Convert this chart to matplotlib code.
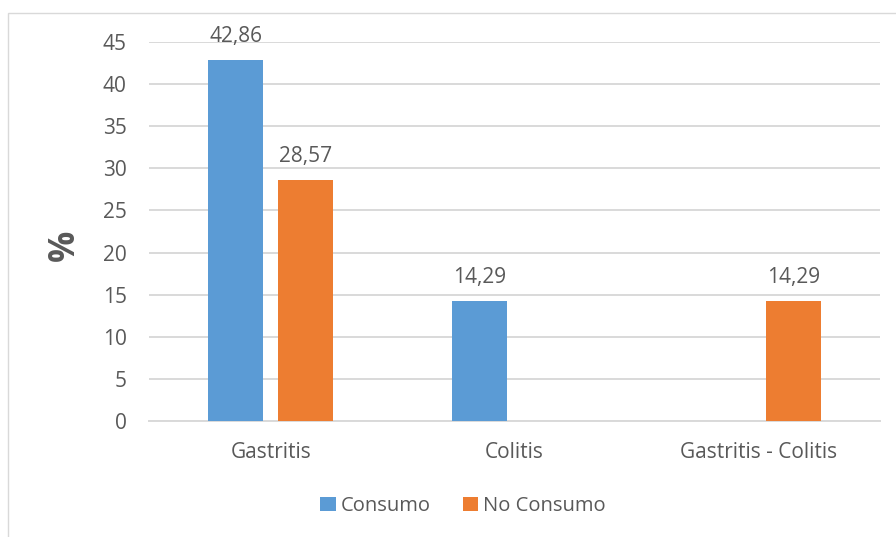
import numpy as np
import matplotlib.pyplot as plt
import matplotlib as mpl
from matplotlib.patches import Rectangle

categories = ['Gastritis', 'Colitis', 'Gastritis - Colitis']
consumo = [42.86, 14.29, 0]
no_consumo = [28.57, 0, 14.29]
yticks = [0, 5, 10, 15, 20, 25, 30, 35, 40, 45]

blue = '#5B9BD5'
orange = '#ED7D31'
txt = '#595959'
grid = '#D9D9D9'

mpl.rcParams['font.family'] = ['Open Sans', 'DejaVu Sans']
fs = 15

fig = plt.figure(figsize=(8.96, 5.37), dpi=100)
ax = fig.add_axes([149/896, 1-421/537, (880-149)/896, (421-42)/537])

# chart border (left and top visible)
fig.patches.append(Rectangle((8/896, -0.1), 1.2, 1-13/537+0.1, transform=fig.transFigure,
                             fill=False, edgecolor=grid, linewidth=1.0))

x = np.arange(len(categories))
w = 0.226
off = 0.144
b1 = ax.bar(x - off, consumo, w, color=blue, label='Consumo', zorder=3)
b2 = ax.bar(x + off, no_consumo, w, color=orange, label='No Consumo', zorder=3)

for bars, vals in ((b1, consumo), (b2, no_consumo)):
    for rect, v in zip(bars, vals):
        if v == 0:
            continue
        ax.annotate(('%.2f' % v).replace('.', ','),
                    (rect.get_x() + rect.get_width()/2, v),
                    xytext=(0, 13), textcoords='offset points',
                    ha='center', va='baseline', fontsize=fs, color=txt)

ax.set_xlim(-0.5, len(categories) - 0.5)
ax.set_ylim(0, 45)
ax.set_yticks(yticks)
ax.set_xticks(x)
ax.set_xticklabels(categories)
ax.yaxis.grid(True, color=grid, linewidth=1.4, zorder=0)
ax.set_axisbelow(True)
for s in ['top', 'right', 'left']:
    ax.spines[s].set_visible(False)
ax.spines['bottom'].set_color(grid)
ax.spines['bottom'].set_linewidth(1.4)
ax.tick_params(axis='both', length=0, labelsize=fs, labelcolor=txt)
ax.tick_params(axis='y', pad=16)
ax.tick_params(axis='x', pad=15)

ax.set_ylabel('%', fontsize=25, fontweight='bold', color=txt, va='center')
ax.yaxis.set_label_coords(-0.115, 0.464)

fig.legend(loc='center', bbox_to_anchor=(463/896, 1-506/537), ncol=2, frameon=False,
           fontsize=14.5, labelcolor=txt, handlelength=0.75, handleheight=0.75,
           handletextpad=0.25, columnspacing=1.6)

fig.savefig('out.png', dpi=100)
